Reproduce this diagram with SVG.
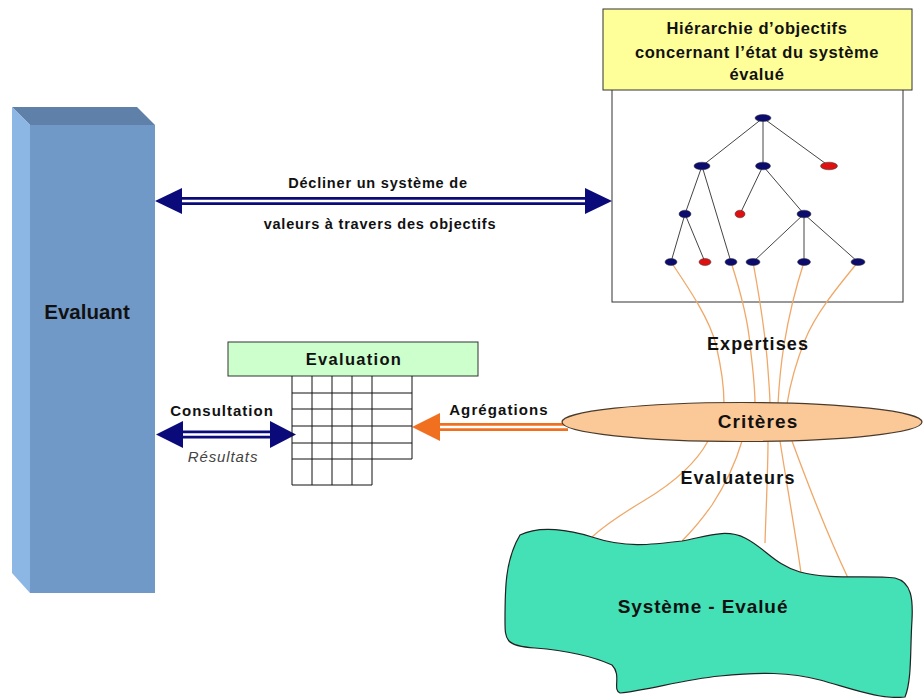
<svg xmlns="http://www.w3.org/2000/svg" width="923" height="698" viewBox="0 0 923 698">
<style>
text{font-family:"Liberation Sans",Arial,sans-serif;fill:#111;text-anchor:middle}
.b{font-weight:bold}
.navy{fill:#0a0a7a}
.navyline{stroke:#0a0a7a;stroke-width:8;fill:none}
.whiteline{stroke:#fff;stroke-width:2.5;fill:none}
.orline{stroke:#f07020;stroke-width:8;fill:none}
.orange{fill:#f07020}
.edge{stroke:#444;stroke-width:1;fill:none}
.curve{stroke:#f0a868;stroke-width:1.3;fill:none}
.nb{fill:#0c0c6e;stroke:#333;stroke-width:0.5}
.nr{fill:#e01010;stroke:#333;stroke-width:0.5}
.grid{stroke:#111;stroke-width:1;fill:none}
</style>

<g id="evaluant">
  <polygon points="12,107 137,107 155,125 30,125" fill="#5f80a8"/>
  <polygon points="12,107 30,125 30,593 12,573" fill="#8cb6e4"/>
  <rect x="30" y="125" width="125" height="468" fill="#7199c7"/>
  <text class="b" x="87" y="319" font-size="20.5">Evaluant</text>
</g>

<g id="hierarchie">
  <rect x="612" y="88" width="291" height="214" fill="#fff" stroke="#333" stroke-width="1"/>
  <rect x="603" y="9" width="309" height="81" fill="#ffff99" stroke="#333" stroke-width="1"/>
  <text class="b" x="757" y="34" font-size="16.5" letter-spacing="0.6">Hiérarchie d’objectifs</text>
  <text class="b" x="757" y="58" font-size="16.5" letter-spacing="0.6">concernant l’état du système</text>
  <text class="b" x="757" y="80" font-size="16.5" letter-spacing="0.6">évalué</text>
</g>

<g id="connectors">
  <g id="expertises-curves">
    <path class="curve" d="M671,262 C690,290 710,320 716,345 C722,370 724,385 724,404"/>
    <path class="curve" d="M731,262 C740,290 748,320 750,345 C753,370 755,385 755,404"/>
    <path class="curve" d="M753,262 C760,300 766,340 768,370 C769,385 770,395 770,404"/>
    <path class="curve" d="M804,262 C795,290 788,320 784,345 C780,370 779,385 778,404"/>
    <path class="curve" d="M858,262 C835,290 815,315 805,340 C795,365 790,385 787,404"/>
  </g>
  <g id="evaluateurs-curves">
    <path class="curve" d="M708,441 C695,465 670,485 645,500 C625,512 605,525 592,537"/>
    <path class="curve" d="M742,441 C735,465 725,485 712,505 C700,522 690,533 682,541"/>
    <path class="curve" d="M768,441 C768,470 766,510 765,543"/>
    <path class="curve" d="M780,441 C786,480 795,530 801,573"/>
    <path class="curve" d="M792,441 C810,490 830,540 848,578"/>
  </g>
  <g id="arrow-decliner">
    <line class="navyline" x1="180" y1="201" x2="588" y2="201"/>
    <line class="whiteline" x1="180" y1="201" x2="588" y2="201"/>
    <polygon class="navy" points="155,201 182,188 182,214"/>
    <polygon class="navy" points="612,201 585,188 585,214"/>
  </g>
  <g id="arrow-consultation">
    <line class="navyline" x1="180" y1="434.5" x2="272" y2="434.5"/>
    <line class="whiteline" x1="180" y1="434.5" x2="272" y2="434.5"/>
    <polygon class="navy" points="156,434.5 183,421 183,448"/>
    <polygon class="navy" points="296,434.5 270,421 270,448"/>
  </g>
  <g id="arrow-agregations">
    <line class="orline" x1="436" y1="427" x2="568" y2="427"/>
    <line class="whiteline" x1="436" y1="427" x2="568" y2="427"/>
    <polygon class="orange" points="412,427 440,413 440,441"/>
  </g>
</g>

<g id="tree">
  <g id="tree-edges">
    <path class="edge" d="M763,118 L702,166 M763,118 L763,166 M763,118 L829,166 M702,166 L685,214 M702,166 L731,262 M763,166 L740,214 M763,166 L804,214 M685,214 L671,262 M685,214 L705,262 M804,214 L753,262 M804,214 L804,262 M804,214 L858,262"/>
  </g>
  <g id="tree-nodes">
    <ellipse class="nb" cx="763" cy="118" rx="8" ry="3.5"/>
    <ellipse class="nb" cx="702" cy="166" rx="8" ry="3.8"/>
    <ellipse class="nb" cx="763" cy="166" rx="7.5" ry="3.8"/>
    <ellipse class="nr" cx="829" cy="166" rx="8.5" ry="3.8"/>
    <ellipse class="nb" cx="685" cy="214" rx="6" ry="3.8"/>
    <ellipse class="nr" cx="740" cy="214" rx="5" ry="3.8"/>
    <ellipse class="nb" cx="804" cy="214" rx="7" ry="3.8"/>
    <ellipse class="nb" cx="671" cy="262" rx="6" ry="3.5"/>
    <ellipse class="nr" cx="705" cy="262" rx="6" ry="3.5"/>
    <ellipse class="nb" cx="731" cy="262" rx="6" ry="3.5"/>
    <ellipse class="nb" cx="753" cy="262" rx="7" ry="3.5"/>
    <ellipse class="nb" cx="804" cy="262" rx="6.5" ry="3.5"/>
    <ellipse class="nb" cx="858" cy="262" rx="7" ry="3.5"/>
  </g>
</g>

<g id="labels">
  <text class="b" x="378" y="188" font-size="14.5" letter-spacing="0.8">Décliner un système de</text>
  <text class="b" x="380" y="229" font-size="14.5" letter-spacing="0.8">valeurs à travers des objectifs</text>
  <text class="b" x="222" y="416" font-size="15" letter-spacing="1">Consultation</text>
  <text x="223" y="462" font-size="15" font-style="italic" letter-spacing="0.9" style="fill:#444">Résultats</text>
  <text class="b" x="499" y="415" font-size="15" letter-spacing="1.1">Agrégations</text>
  <text class="b" x="758" y="350" font-size="18" letter-spacing="1.1">Expertises</text>
  <text class="b" x="738" y="484" font-size="18" letter-spacing="1.2">Evaluateurs</text>
</g>

<g id="evaluation">
  <rect x="228" y="342" width="250" height="34" fill="#ccffcc" stroke="#333" stroke-width="1"/>
  <text class="b" x="354" y="365" font-size="16.5" letter-spacing="1.3">Evaluation</text>
  <path class="grid" d="M292,376 L292,485 M312,376 L312,485 M332,376 L332,485 M352,376 L352,485 M372,376 L372,485 M412,376 L412,459 M292,393 L412,393 M292,409 L412,409 M292,426 L412,426 M292,443 L412,443 M292,459 L412,459 M292,485 L372,485"/>
</g>

<g id="criteres">
  <ellipse cx="742" cy="422" rx="180" ry="19.5" fill="#fbc898" stroke="#4a3a2a" stroke-width="1.2"/>
  <text class="b" x="758" y="428" font-size="19" letter-spacing="1.1">Critères</text>
</g>

<g id="systeme">
  <path d="M520,535 C540,525 570,530 592,537 C625,548 650,545 682,541 C705,537 725,528 745,538 C765,548 775,565 800,572 C830,580 870,575 895,578 C912,582 913,600 912,620 C910,650 912,680 905,697 C880,700 850,688 820,680 C790,672 760,672 720,676 C680,680 650,690 620,693 C612,690 622,675 612,665 C590,655 560,650 535,648 C505,646 505,640 505,620 C505,590 505,560 520,535 Z" fill="#44e0b6" stroke="#222" stroke-width="1.2"/>
  <text class="b" x="703" y="613" font-size="19" letter-spacing="0.9">Système - Evalué</text>
</g>
</svg>
